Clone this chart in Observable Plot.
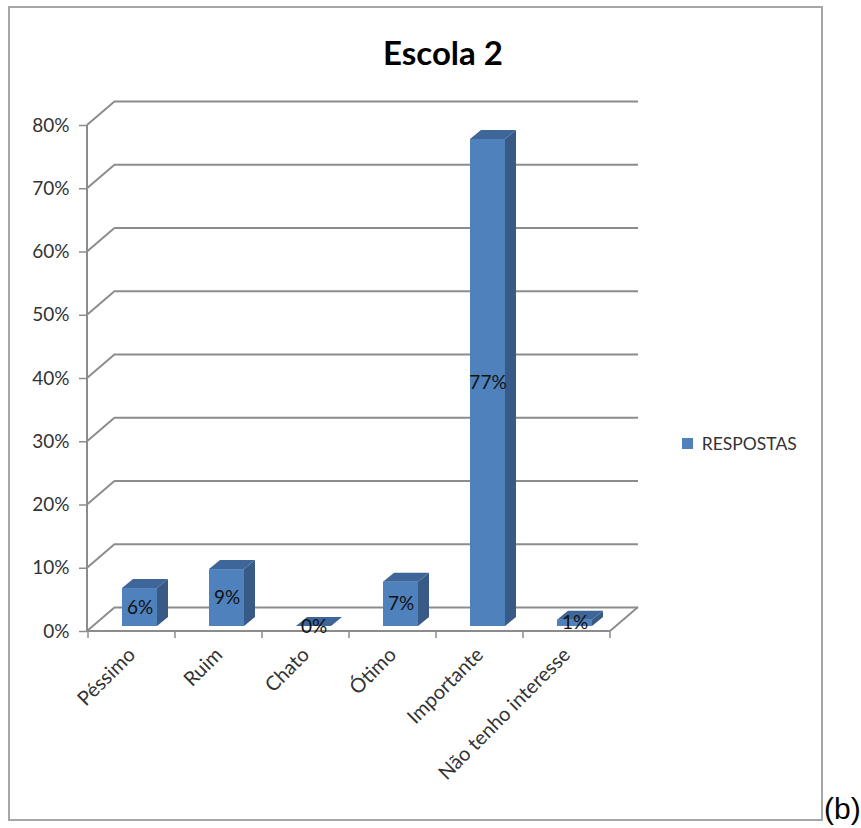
<!DOCTYPE html>
<html>
<head>
<meta charset="utf-8">
<script src="https://cdn.jsdelivr.net/npm/d3@7"></script>
<script src="https://cdn.jsdelivr.net/npm/@observablehq/plot@0.6"></script>
<style>
  html, body { margin: 0; padding: 0; background: #fff; }
  #page { position: relative; width: 861px; height: 828px; overflow: hidden; font-family: Lato, sans-serif; }
  #chart { position: absolute; left: 0; top: 0; }
  #title { position: absolute; left: 0; width: 886px; top: 36px; text-align: center;
           font: 700 33px/33px Lato, sans-serif; color: #000; }
  #legend { position: absolute; left: 682px; top: 427px; }
  #border { position: absolute; left: 8px; top: 6px; width: 815px; height: 815px;
            box-sizing: border-box; border: 2px solid #a6a6a6; }
  #tag { position: absolute; left: 824px; top: 794px; font: 30px/30px "Liberation Sans", Arial, sans-serif; color: #000; }
</style>
</head>
<body>
<div id="page">
  <div id="chart"></div>
  <div id="title">Escola 2</div>
  <div id="legend"></div>
  <div id="border"></div>
  <div id="tag">(b)</div>
</div>
<script>
// Respostas da Escola 2 (percentual por categoria)
const categories = ["Péssimo", "Ruim", "Chato", "Ótimo", "Importante", "Não tenho interesse"];
const respostas = [6, 9, 0, 7, 77, 1];
const yTicks = [0, 10, 20, 30, 40, 50, 60, 70, 80];
const seriesName = "RESPOSTAS";

const rows = categories.map((categoria, i) => ({categoria, valor: respostas[i]}));

// colours of the pseudo-3D columns and the walls
const FRONT = "#4f81bd";
const SIDE = "#375a86";
const TOP = "#3e6698";
const GRID = "#8c8c8c";
const TEXT = "#333";

// depth of the floor/back wall, and of each column
const WALL_DX = 28, WALL_DY = -24;
const COL_DX = 11, COL_DY = -9;
const COL_SHIFT_X = 8, COL_SHIFT_Y = -5;
const COL_INSET = 26;

// diagonal edges of the left wall and of the floor, plus the front axis lines
function walls(index, scales, values, dims) {
  const x = scales.x, y = scales.y;
  const [xa, xb] = x.range();
  const g = d3.create("svg:g")
    .attr("fill", "none")
    .attr("stroke", GRID)
    .attr("stroke-width", 2);
  for (const t of yTicks) {
    g.append("path").attr("d", `M${xa},${y(t)}L${xa + WALL_DX},${y(t) + WALL_DY}`);
  }
  g.append("path").attr("d", `M${xb},${y(0)}L${xb + WALL_DX},${y(0) + WALL_DY}`);
  g.append("path").attr("d", `M${xa},${y(d3.max(yTicks))}L${xa},${y(0)}L${xb},${y(0)}`);
  const bounds = categories.map(c => x(c)).concat([xb]);
  for (const b of bounds) {
    g.append("path").attr("d", `M${b},${y(0)}L${b},${y(0) + 7}`).attr("stroke-width", 1.5);
  }
  return g.node();
}

// side and top faces of each column
function columnDepth(index, scales, values, dims) {
  const x = scales.x, y = scales.y;
  const bw = x.bandwidth();
  const g = d3.create("svg:g");
  for (const d of rows) {
    const x0 = x(d.categoria) + COL_INSET + COL_SHIFT_X;
    const x1 = x(d.categoria) + bw - COL_INSET + COL_SHIFT_X;
    const yt = y(d.valor) + COL_SHIFT_Y;
    const yb = y(0) + COL_SHIFT_Y;
    g.append("path")
      .attr("d", `M${x1},${yt}L${x1 + COL_DX},${yt + COL_DY}L${x1 + COL_DX},${yb + COL_DY}L${x1},${yb}Z`)
      .attr("fill", SIDE);
    g.append("path")
      .attr("d", `M${x0},${yt}L${x0 + COL_DX},${yt + COL_DY}L${x1 + COL_DX},${yt + COL_DY}L${x1},${yt}Z`)
      .attr("fill", TOP);
  }
  return g.node();
}

const chart = Plot.plot({
  width: 861,
  height: 828,
  marginLeft: 87,
  marginRight: 251,
  marginTop: 125,
  marginBottom: 197,
  style: {background: "transparent", fontFamily: "Lato, sans-serif", overflow: "visible"},
  x: {type: "band", domain: categories, padding: 0, label: null},
  y: {domain: [0, 80], label: null},
  marks: [
    // back wall gridlines
    Plot.ruleY(yTicks, {dx: WALL_DX, dy: WALL_DY, stroke: GRID, strokeWidth: 2}),
    walls,
    Plot.axisY({ticks: yTicks, tickFormat: d => `${d}%`, tickSize: 8, tickPadding: 10,
                stroke: GRID, strokeWidth: 1.5, fill: TEXT, fontSize: 19, label: null}),
    Plot.axisX({tickRotate: -45, tickSize: 0, tickPadding: 20, fill: TEXT, fontSize: 20, label: null}),
    // front faces of the columns
    Plot.barY(rows, {x: "categoria", y: "valor", fill: FRONT,
                     insetLeft: COL_INSET, insetRight: COL_INSET, dx: COL_SHIFT_X, dy: COL_SHIFT_Y}),
    columnDepth,
    // value labels at the middle of each column
    Plot.text(rows, {x: "categoria", y: d => d.valor / 2, text: d => `${d.valor}%`,
                     dx: COL_SHIFT_X, dy: COL_SHIFT_Y, fill: "#111", fontSize: 19})
  ]
});
document.getElementById("chart").appendChild(chart);

const legend = Plot.legend({
  color: {type: "ordinal", domain: [seriesName], range: [FRONT]},
  swatchSize: 11,
  style: {fontFamily: "Lato, sans-serif", fontSize: "17.5px", color: TEXT}
});
document.getElementById("legend").appendChild(legend);
</script>
</body>
</html>
